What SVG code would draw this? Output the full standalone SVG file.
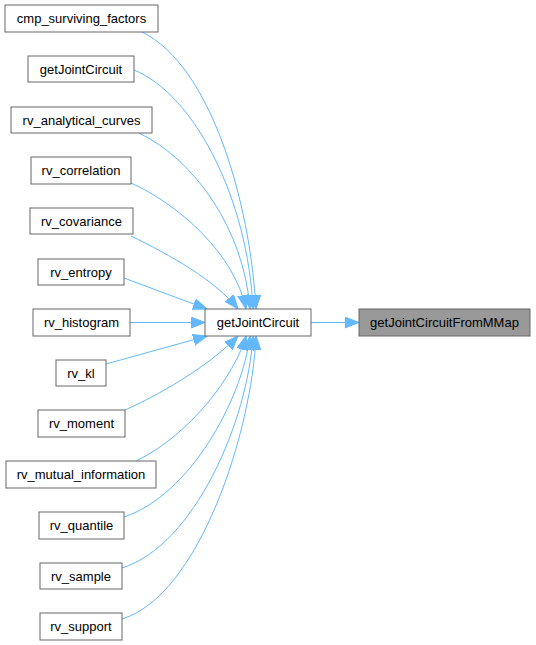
<svg xmlns="http://www.w3.org/2000/svg" width="536" height="645" viewBox="0 0 536 645">
<style>
.n rect{fill:#ffffff;stroke:#666666;stroke-width:1}
.n.h rect{fill:#999999}
.n text{font-family:"Liberation Sans",Arial,sans-serif;font-size:13px;fill:#000000;text-anchor:middle}
.e path{fill:none;stroke:#63b8ff;stroke-width:1}
</style>
<defs>
<marker id="ah" markerUnits="userSpaceOnUse" markerWidth="16" markerHeight="12" refX="14" refY="5.5" orient="auto">
<path d="M0,0 L14,5.5 L0,11 Z" fill="#63b8ff" stroke="#63b8ff" stroke-width="1"/>
</marker>
</defs>
<rect width="536" height="645" fill="#ffffff"/>
<g id="edges" class="e">
<path d="M311,322.5 L359,322.5" marker-end="url(#ah)"/>
<path d="M142,32 C210,65 250,200 256,309" marker-end="url(#ah)"/>
<path d="M134,70 C195,95 248,200 253,309" marker-end="url(#ah)"/>
<path d="M139,133 C195,160 244,230 250,309" marker-end="url(#ah)"/>
<path d="M131,183 C180,205 235,255 246,309" marker-end="url(#ah)"/>
<path d="M131,236 C170,255 215,280 238,309" marker-end="url(#ah)"/>
<path d="M124,278 L207,309" marker-end="url(#ah)"/>
<path d="M130,322.5 L205,322.5" marker-end="url(#ah)"/>
<path d="M106,364 L207,336" marker-end="url(#ah)"/>
<path d="M125,410 C170,390 215,360 238,336" marker-end="url(#ah)"/>
<path d="M136,461 C190,435 235,375 246,336" marker-end="url(#ah)"/>
<path d="M124,517 C190,495 242,400 250,336" marker-end="url(#ah)"/>
<path d="M122,568 C195,545 248,420 253,336" marker-end="url(#ah)"/>
<path d="M122,619 C200,595 252,430 256,336" marker-end="url(#ah)"/>
</g>
<g id="node_main" class="n"><rect x="205" y="309" width="106" height="27"/><text x="258" y="327">getJointCircuit</text></g>
<g id="node_mmap" class="n h"><rect x="359" y="309" width="171" height="27"/><text x="444.5" y="327">getJointCircuitFromMMap</text></g>
<g id="node_cmp" class="n"><rect x="5" y="5" width="153" height="27"/><text x="81.5" y="23">cmp_surviving_factors</text></g>
<g id="node_gjc" class="n"><rect x="28" y="56" width="106" height="26"/><text x="81" y="74">getJointCircuit</text></g>
<g id="node_anc" class="n"><rect x="11" y="107" width="141" height="26"/><text x="81.5" y="125">rv_analytical_curves</text></g>
<g id="node_cor" class="n"><rect x="31" y="157" width="100" height="27"/><text x="81" y="175">rv_correlation</text></g>
<g id="node_cov" class="n"><rect x="30" y="208" width="103" height="26"/><text x="81.5" y="226">rv_covariance</text></g>
<g id="node_ent" class="n"><rect x="38" y="259" width="86" height="26"/><text x="81" y="277">rv_entropy</text></g>
<g id="node_his" class="n"><rect x="33" y="309" width="97" height="27"/><text x="81.5" y="327">rv_histogram</text></g>
<g id="node_kl" class="n"><rect x="56" y="360" width="50" height="26"/><text x="81" y="378">rv_kl</text></g>
<g id="node_mom" class="n"><rect x="38" y="410" width="87" height="27"/><text x="81.5" y="428">rv_moment</text></g>
<g id="node_mut" class="n"><rect x="6" y="461" width="150" height="27"/><text x="81" y="479">rv_mutual_information</text></g>
<g id="node_qua" class="n"><rect x="39" y="512" width="85" height="27"/><text x="81.5" y="530">rv_quantile</text></g>
<g id="node_sam" class="n"><rect x="40" y="563" width="82" height="26"/><text x="81" y="581">rv_sample</text></g>
<g id="node_sup" class="n"><rect x="40" y="613" width="82" height="27"/><text x="81" y="631">rv_support</text></g>
</svg>
